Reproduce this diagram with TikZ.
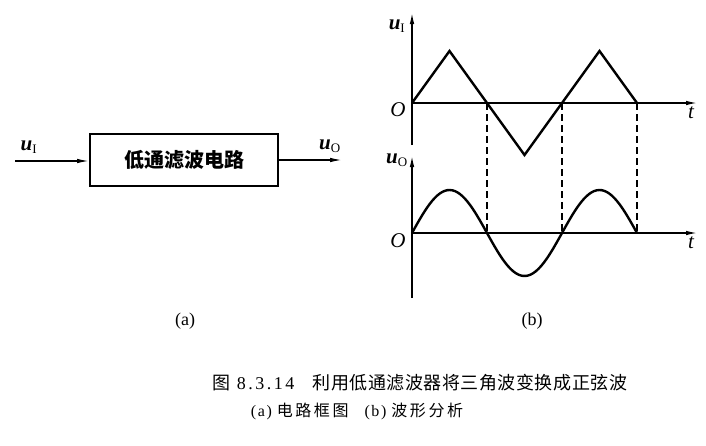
\documentclass[tikz,border=0pt]{standalone}
\usepackage{fontspec}
\setmainfont{Liberation Serif}
\newfontfamily\cjk{Noto Sans CJK SC}
\usetikzlibrary{arrows.meta,positioning}

\begin{document}
\begin{tikzpicture}[x=1pt,y=-1pt,
        thick,
        block/.style={draw,line width=1.8pt,minimum width=188pt,minimum height=52pt,inner sep=0pt,font=\cjk\bfseries\fontsize{20}{22}\selectfont},
        axis/.style={line width=1.6pt,-{Latex[length=12pt,width=4.5pt]}},
        wave/.style={line width=2.4pt,line join=miter},
        guide/.style={line width=1.2pt,dash pattern=on 7pt off 4pt},
        sig/.style={font=\fontsize{21}{24}\selectfont\itshape\bfseries,inner sep=1pt},
        sublabel/.style={font=\fontsize{18}{20}\selectfont,inner sep=1pt}]

    \useasboundingbox (0,0) rectangle (706,445);

    % (a) block diagram
    \node[block] (lpf) at (184,160) {低通滤波电路};
    \coordinate (in) at (15,161);
    \coordinate (out) at (342,160);
    \draw[axis,line width=1.3pt] (in) -- (lpf.west |- in);
    \draw[axis,line width=1.3pt] (lpf.east |- out) -- (out);
    \node[sig] (ui) at (29,147) {u\textsubscript{\normalfont\upshape\fontsize{13}{14}\selectfont I}};
    \node[sig] (uo) at (330,146) {u\textsubscript{\normalfont\upshape\fontsize{13}{14}\selectfont O}};

    % (b) waveforms
    \coordinate (o1) at (412,103);
    \coordinate (o2) at (412,233);
    \draw[axis] (412,145) -- (412,12);
    \draw[axis] (o1) -- (698,103);
    \draw[axis] (412,298) -- (412,155);
    \draw[axis] (o2) -- (698,233);
    \node[sig] (lui) at (397,26) {u\textsubscript{\normalfont\upshape\fontsize{13}{14}\selectfont I}};
    \node[sig] (luo) at (397,160) {u\textsubscript{\normalfont\upshape\fontsize{13}{14}\selectfont O}};
    \node[sig,font=\fontsize{21}{24}\selectfont\itshape] (O1) at (398,110) {O};
    \node[sig,font=\fontsize{21}{24}\selectfont\itshape] (O2) at (398,241) {O};
    \node[sig,font=\fontsize{21}{24}\selectfont\itshape] (t1) at (691,113) {t};
    \node[sig,font=\fontsize{21}{24}\selectfont\itshape] (t2) at (691,243) {t};

    \draw[wave] (o1) -- (449.5,51) -- (487,103) -- (524.5,155) -- (562,103) -- (599.5,51) -- (637,103);
    \draw[wave,domain=412:637,samples=90,smooth] plot (\x,{233-43*sin((\x-412)*2.4)});

    \foreach \xx in {487,562,637}
        \draw[guide] (\xx,103) -- (\xx,233);

    % labels and caption
    \node[sublabel] (la) at (185,321) {(a)};
    \node[sublabel] (lb) at (532,321) {(b)};
    \node[inner sep=0pt,font=\fontsize{18}{22}\selectfont] (fig) at (420,383)
        {{\cjk 图}\hspace{6pt}{\addfontfeature{LetterSpace=14}8.3.14}\hspace{18pt}{\cjk\addfontfeature{LetterSpace=3}利用低通滤波器将三角波变换成正弦波}};
    \node[inner sep=0pt,font=\fontsize{16}{18}\selectfont] (sub) at (357,411)
        {{\addfontfeature{LetterSpace=10}(a)}\hspace{5pt}{\cjk\addfontfeature{LetterSpace=16}电路框图}\hspace{16pt}{\addfontfeature{LetterSpace=10}(b)}\hspace{5pt}{\cjk\addfontfeature{LetterSpace=16}波形分析}};
\end{tikzpicture}
\end{document}
